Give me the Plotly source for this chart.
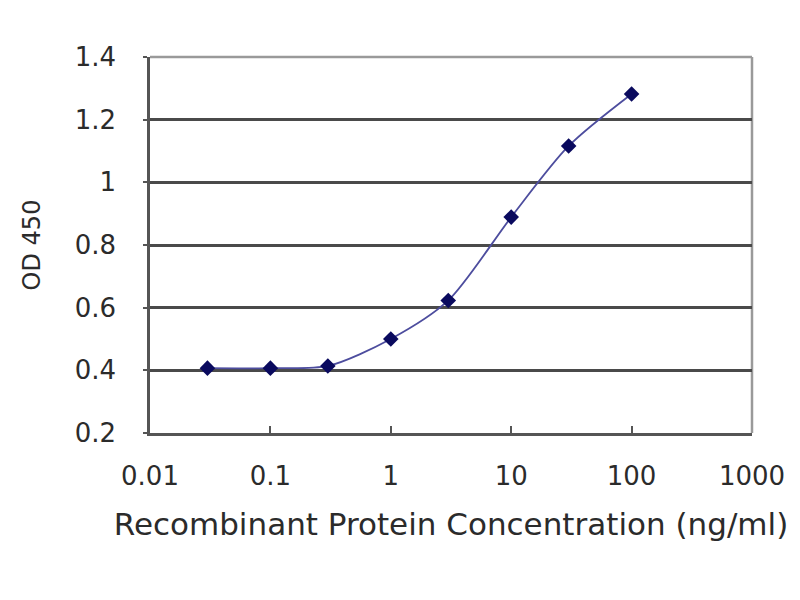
import plotly.graph_objects as go

# Data
concentration = [0.03, 0.1, 0.3, 1, 3, 10, 30, 100]
od450 = [0.407, 0.407, 0.414, 0.500, 0.623, 0.889, 1.116, 1.282]

x_tick_vals = [0.01, 0.1, 1, 10, 100, 1000]
x_tick_text = ["0.01", "0.1", "1", "10", "100", "1000"]
y_tick_vals = [0.2, 0.4, 0.6, 0.8, 1.0, 1.2, 1.4]
y_tick_text = ["0.2", "0.4", "0.6", "0.8", "1", "1.2", "1.4"]

x_title = "Recombinant Protein Concentration (ng/ml)"
y_title = "OD 450"

FONT = "DejaVu Sans"
TEXT_COLOR = "#2b2b2b"

fig = go.Figure()
fig.add_trace(go.Scatter(
    x=concentration,
    y=od450,
    mode="lines+markers",
    line=dict(shape="spline", smoothing=0.8, color="#4d4d9e", width=1.8),
    marker=dict(symbol="diamond", size=12, color="#0a0a5e",
                line=dict(width=0)),
    showlegend=False,
))

fig.update_layout(
    width=800, height=600,
    margin=dict(l=142, r=56, t=49, b=175),
    paper_bgcolor="white",
    plot_bgcolor="white",
    font=dict(family=FONT, color=TEXT_COLOR),
    xaxis=dict(
        type="log",
        range=[-2, 3],
        automargin=False,
        tickvals=x_tick_vals,
        ticktext=x_tick_text,
        tickfont=dict(size=26, family=FONT, color=TEXT_COLOR),
        ticks="inside", ticklen=7, tickwidth=2, tickcolor="#555555",
        showgrid=False, zeroline=False,
        showline=True, linecolor="#555555", linewidth=2.5,
        ticklabelstandoff=18,
        title=dict(text=x_title, font=dict(size=31, family=FONT, color=TEXT_COLOR),
                   standoff=24),
    ),
    yaxis=dict(
        range=[0.2, 1.4],
        automargin=False,
        tickvals=y_tick_vals,
        ticktext=y_tick_text,
        tickfont=dict(size=26, family=FONT, color=TEXT_COLOR),
        ticks="outside", ticklen=4, tickwidth=2, tickcolor="#555555",
        showgrid=True, gridcolor="#4a4a4a", gridwidth=2.5,
        zeroline=False,
        showline=True, linecolor="#555555", linewidth=2.5,
        ticklabelstandoff=22,
        title=dict(text=y_title, font=dict(size=24, family=FONT, color=TEXT_COLOR),
                   standoff=28),
    ),
    shapes=[
        dict(type="line", xref="paper", yref="paper", x0=0, x1=1, y0=1, y1=1,
             line=dict(color="#9a9a9a", width=2.5), layer="below"),
        dict(type="line", xref="paper", yref="paper", x0=1, x1=1, y0=0, y1=1,
             line=dict(color="#9a9a9a", width=2.5), layer="below"),
    ],
)

fig.write_html("out.html")
